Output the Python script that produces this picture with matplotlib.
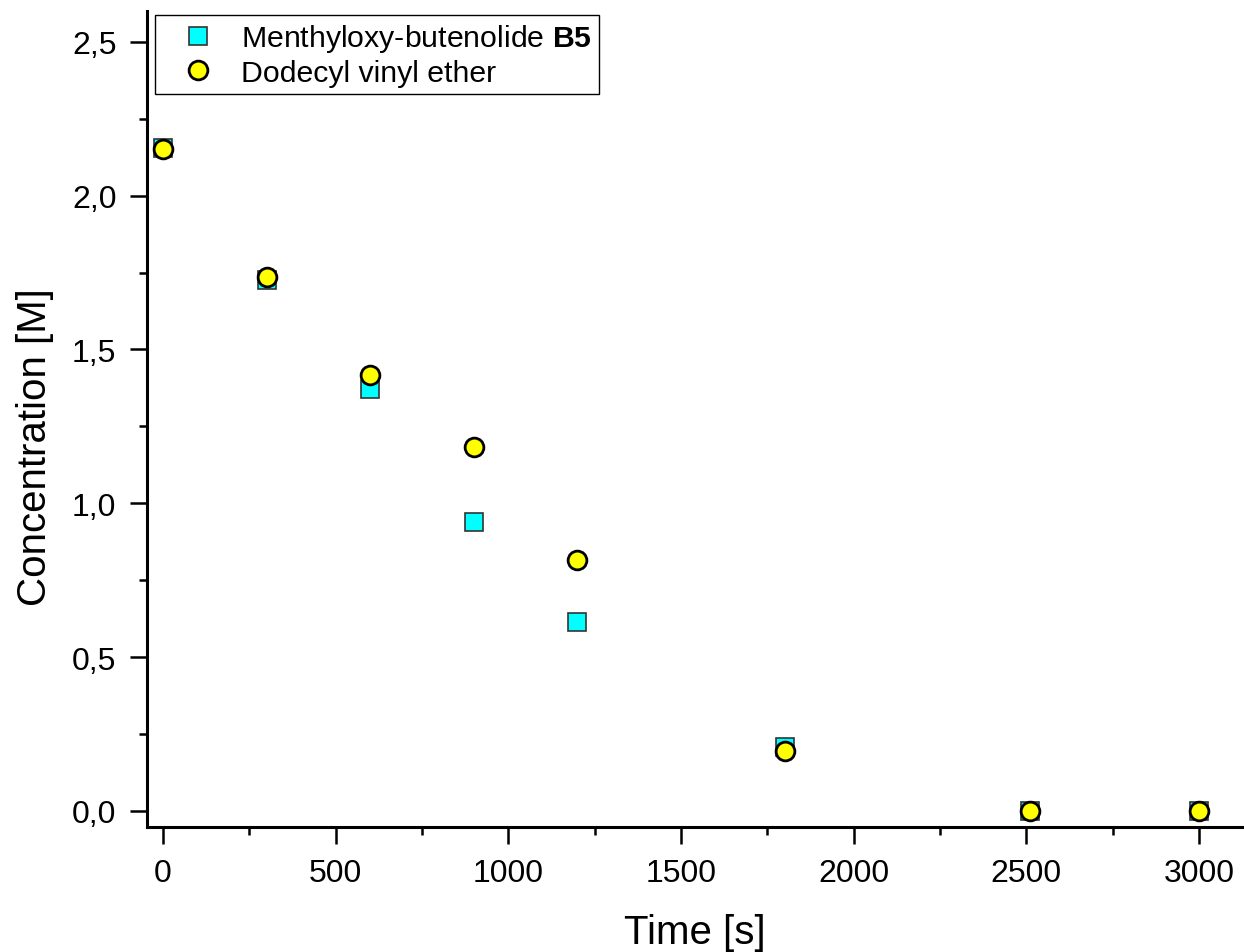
import matplotlib
matplotlib.use("Agg")
import matplotlib.pyplot as plt
from matplotlib.ticker import MultipleLocator, FuncFormatter

plt.rcParams['font.family'] = ['Liberation Sans', 'DejaVu Sans']
plt.rcParams['mathtext.fontset'] = 'custom'
plt.rcParams['mathtext.rm'] = 'Liberation Sans'
plt.rcParams['mathtext.bf'] = 'Liberation Sans:bold'

# Data
time_s = [0, 300, 600, 900, 1200, 1800, 2510, 3000]
butenolide_b5 = [2.154, 1.725, 1.370, 0.939, 0.615, 0.209, 0.0, 0.0]
dodecyl_vinyl_ether = [2.150, 1.734, 1.417, 1.183, 0.816, 0.194, 0.0, 0.0]
series_labels = ["Menthyloxy-butenolide $\\mathbf{B5}$", "Dodecyl vinyl ether"]

fig = plt.figure(figsize=(12.44, 9.53), dpi=100)
ax = fig.add_axes([147/1244, 125/953, 1096/1244, 816/953])

ax.plot(time_s, butenolide_b5, linestyle='none', marker='s', markersize=12.5,
        markerfacecolor='#00FFFF', markeredgecolor='#333333', markeredgewidth=1.2,
        label=series_labels[0], zorder=3)
ax.plot(time_s, dodecyl_vinyl_ether, linestyle='none', marker='o', markersize=13.5,
        markerfacecolor='#FFFF00', markeredgecolor='black', markeredgewidth=2.0,
        label=series_labels[1], zorder=4)

ax.set_xlim(-46, 3127)
ax.set_ylim(-0.052, 2.60)

for s in ['top', 'right']:
    ax.spines[s].set_visible(False)
for s in ['left', 'bottom']:
    ax.spines[s].set_linewidth(2.2)

ax.xaxis.set_major_locator(MultipleLocator(500))
ax.xaxis.set_minor_locator(MultipleLocator(250))
ax.yaxis.set_major_locator(MultipleLocator(0.5))
ax.yaxis.set_minor_locator(MultipleLocator(0.25))
ax.yaxis.set_major_formatter(FuncFormatter(lambda v, p: f"{v:.1f}".replace('.', ',')))

ax.tick_params(which='major', direction='out', length=12, width=1.8, labelsize=23, pad=10)
ax.tick_params(which='minor', direction='out', length=6, width=1.8)

ax.set_xlabel("Time [s]", fontsize=29, labelpad=18)
ax.set_ylabel("Concentration [M]", fontsize=29, labelpad=13, y=0.467)

leg = ax.legend(loc='upper left', bbox_to_anchor=(155/1244, 1 - 16/953),
                bbox_transform=fig.transFigure, borderaxespad=0, fontsize=21.8,
                fancybox=False, framealpha=1, edgecolor='black',
                handletextpad=0.25, labelspacing=0.15, borderpad=0.24,
                handlelength=2.35)
leg.get_frame().set_linewidth(1.0)

fig.savefig("out.png", dpi=100, facecolor='white')
